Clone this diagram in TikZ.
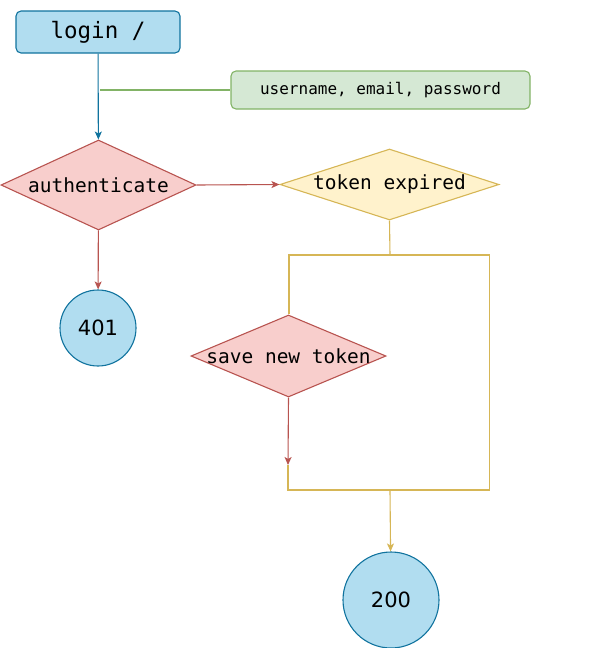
\documentclass[tikz,border=0pt]{standalone}
\usepackage{fontspec}
\setmonofont{DejaVu Sans Mono}
\setsansfont{DejaVu Sans}
\usetikzlibrary{shapes.geometric, arrows.meta}

\definecolor{bluefill}{HTML}{B1DDF0}
\definecolor{blueline}{HTML}{10739E}
\definecolor{greenfill}{HTML}{D5E8D4}
\definecolor{greenline}{HTML}{82B366}
\definecolor{redfill}{HTML}{F8CECC}
\definecolor{redline}{HTML}{B85450}
\definecolor{yellowfill}{HTML}{FFF2CC}
\definecolor{yellowline}{HTML}{D6B656}

\begin{document}
\begin{tikzpicture}[
    x=1pt, y=-1pt,
    box/.style={rectangle, rounded corners=5pt, draw, line width=1.1pt, inner sep=0pt},
    decision/.style={diamond, draw, line width=1.1pt, inner sep=-6pt, font=\ttfamily\fontsize{19.5}{23}\selectfont},
    endpoint/.style={circle, draw=blueline, fill=bluefill, line width=1.1pt, inner sep=0pt, font=\sffamily\fontsize{21}{25}\selectfont},
    arrow/.style={-{Stealth[length=8pt,width=7pt,inset=2pt]}, line width=1.1pt},
    wire/.style={line width=1.1pt}
  ]
  \useasboundingbox (0,0) rectangle (611,648);

  % ---- Entrada ----
  \node[box, draw=blueline, fill=bluefill, minimum width=164pt, minimum height=42pt,
        font=\ttfamily\fontsize{22.5}{27}\selectfont] (login) at (98,32) {login /\hspace{17pt}};
  \node[box, draw=greenline, fill=greenfill, minimum width=299pt, minimum height=38pt,
        font=\ttfamily\fontsize{16}{19}\selectfont] (params) at (380.5,90) {username, email, password};

  % ---- Decisiones ----
  \node[decision, draw=redline, fill=redfill, shape aspect=2.17,
        minimum width=195pt, minimum height=90pt] (auth) at (98.5,185) {authenticate};
  \node[decision, draw=yellowline, fill=yellowfill, shape aspect=3.08,
        minimum width=219pt, minimum height=71pt] (expired) at (389.5,184.5) {token expired};
  \node[decision, draw=redline, fill=redfill, shape aspect=2.38,
        minimum width=195pt, minimum height=82pt] (save) at (288.5,356) {save new token};

  % ---- Respuestas ----
  \node[endpoint, minimum size=76pt] (r401) at (98,328) {401};
  \node[endpoint, minimum size=96pt] (r200) at (391,600) {200};

  % puntos de union
  \coordinate (tap) at (100,90);
  \coordinate (split) at (390,255);
  \coordinate (splitL) at (289,255);
  \coordinate (splitR) at (489.5,255);
  \coordinate (join) at (390,490);
  \coordinate (joinL) at (288,490);
  \coordinate (saveout) at (288,465);

  % ---- Conexiones ----
  \draw[arrow, blueline] (login) -- (auth);
  \draw[wire, greenline] (tap) -- (params.west);
  \draw[arrow, redline] (auth.east) -- (expired.west);
  \draw[arrow, redline] (auth) -- (r401);

  \draw[wire, yellowline] (expired.south) -- (split);
  \draw[wire, yellowline] (splitL |- save.north) -- (splitL) -- (splitR) -- (splitR |- joinL) -- (joinL) -- (saveout);
  \draw[arrow, redline] (save.south) -- (saveout);
  \draw[arrow, yellowline] (join) -- (r200);
\end{tikzpicture}
\end{document}
